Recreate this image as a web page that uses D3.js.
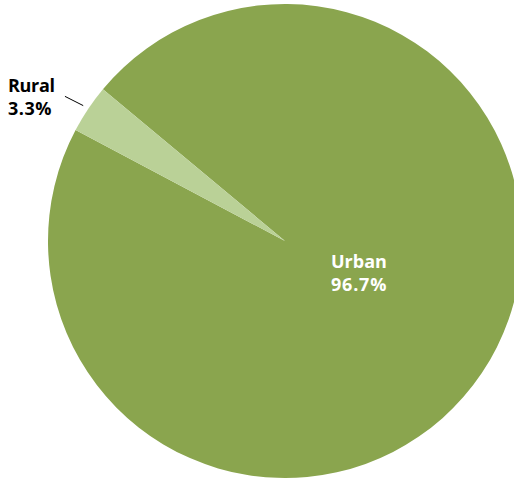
<!DOCTYPE html>
<html><head><meta charset="utf-8">
<script src="https://cdn.jsdelivr.net/npm/d3@7"></script>
<style>body{margin:0;background:#fff;}svg{display:block;}text{font-family:"Open Sans",sans-serif;font-weight:bold;font-size:18px;}</style>
</head><body>
<svg id="c" width="514" height="479"></svg>
<script>
const categories = ["Urban", "Rural"];
const values = [96.7, 3.3];
const labels = ["96.7%", "3.3%"];
const colors = ["#8aa54e", "#bad197"];

const svg = d3.select("#c");
const cx = 285, cy = 241, r = 237;
const g = svg.append("g").attr("transform", `translate(${cx},${cy})`);
const start = -50.2 * Math.PI / 180;
const pie = d3.pie().sort(null).value(d => d).startAngle(start).endAngle(start + 2 * Math.PI);
const arcs = pie(values);
const arc = d3.arc().innerRadius(0).outerRadius(r);
g.selectAll("path").data(arcs).enter().append("path")
  .attr("d", arc).attr("fill", (d, i) => colors[i]);

// Urban label inside
const ux = 331, uy = 268;
const ut = svg.append("text").attr("fill", "#fff");
ut.append("tspan").attr("x", ux).attr("y", uy).text(categories[0]);
ut.append("tspan").attr("x", ux).attr("y", uy + 23).attr("letter-spacing", 0.8).text(labels[0]);

// Rural label outside with leader
const ra = arcs[1];
const mid = (ra.startAngle + ra.endAngle) / 2;
const p1 = [Math.sin(mid) * (r + 6), -Math.cos(mid) * (r + 6)];
const p2 = [Math.sin(mid) * (r + 28), -Math.cos(mid) * (r + 28)];
g.append("line").attr("x1", p1[0]).attr("y1", p1[1]).attr("x2", p2[0]).attr("y2", p2[1] + 3)
  .attr("stroke", "#000").attr("stroke-width", 1);
const rt = svg.append("text").attr("fill", "#000");
rt.append("tspan").attr("x", 8).attr("y", 92).attr("letter-spacing", -0.3).text(categories[1]);
rt.append("tspan").attr("x", 8).attr("y", 115).attr("letter-spacing", 0.5).text(labels[1]);
</script>
</body></html>
